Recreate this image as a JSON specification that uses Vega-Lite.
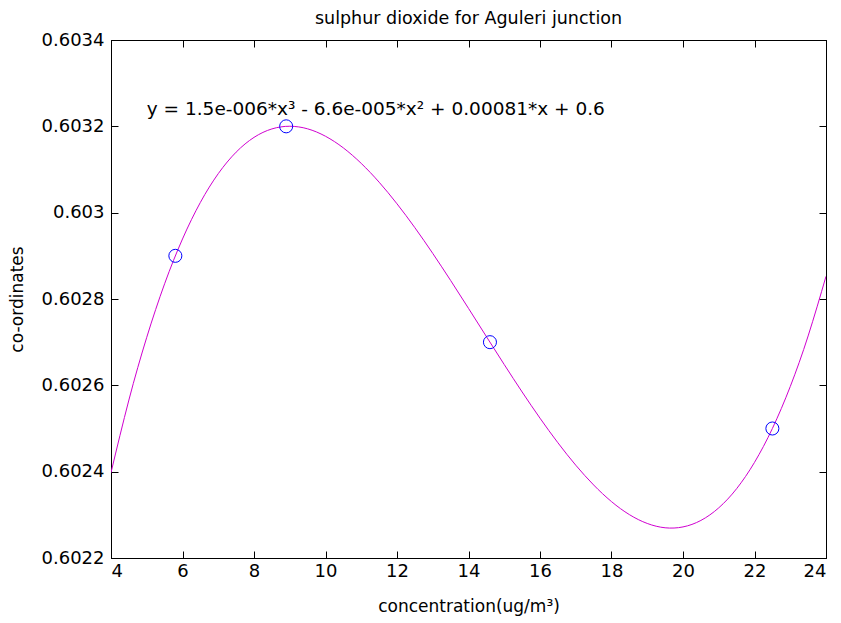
{
  "$schema": "https://vega.github.io/schema/vega-lite/v6.json",
  "width": 715,
  "height": 518,
  "autosize": "none",
  "padding": {"left": 111, "top": 40, "right": 15, "bottom": 65},
  "background": "white",
  "config": {
    "font": "DejaVu Sans",
    "view": {"stroke": "black", "strokeWidth": 1},
    "axis": {
      "grid": false,
      "domainColor": "black",
      "tickColor": "black",
      "labelColor": "black",
      "titleColor": "black",
      "labelFont": "DejaVu Sans",
      "titleFont": "DejaVu Sans",
      "labelFontSize": 18,
      "titleFontSize": 17,
      "titleFontWeight": "normal",
      "tickSize": -7
    }
  },
  "title": {
    "text": "sulphur dioxide for Aguleri junction",
    "font": "DejaVu Sans",
    "fontSize": 17.5,
    "fontWeight": "normal",
    "color": "black",
    "offset": 4
  },
  "datasets": {
    "curve": [
      {"x": 4, "y": 0.6023978}, {"x": 4.5, "y": 0.6025659}, {"x": 5, "y": 0.6027113},
      {"x": 5.5, "y": 0.6028354}, {"x": 6, "y": 0.6029391}, {"x": 6.5, "y": 0.6030238},
      {"x": 7, "y": 0.6030904}, {"x": 7.5, "y": 0.6031402}, {"x": 8, "y": 0.6031744},
      {"x": 8.5, "y": 0.603194}, {"x": 9, "y": 0.6032002}, {"x": 9.5, "y": 0.6031942},
      {"x": 10, "y": 0.603177}, {"x": 10.5, "y": 0.60315}, {"x": 11, "y": 0.6031141},
      {"x": 11.5, "y": 0.6030706}, {"x": 12, "y": 0.6030205}, {"x": 12.5, "y": 0.6029652},
      {"x": 13, "y": 0.6029056}, {"x": 13.5, "y": 0.6028429}, {"x": 14, "y": 0.6027783},
      {"x": 14.5, "y": 0.602713}, {"x": 15, "y": 0.6026481}, {"x": 15.5, "y": 0.6025846},
      {"x": 16, "y": 0.6025239}, {"x": 16.5, "y": 0.602467}, {"x": 17, "y": 0.602415},
      {"x": 17.5, "y": 0.6023692}, {"x": 18, "y": 0.6023306}, {"x": 18.5, "y": 0.6023005},
      {"x": 19, "y": 0.60228}, {"x": 19.5, "y": 0.60227}, {"x": 20, "y": 0.602272},
      {"x": 20.5, "y": 0.602287}, {"x": 21, "y": 0.6023162}, {"x": 21.5, "y": 0.6023606},
      {"x": 22, "y": 0.6024215}, {"x": 22.5, "y": 0.6025}, {"x": 23, "y": 0.6025972},
      {"x": 23.5, "y": 0.6027144}, {"x": 24, "y": 0.6028525}
    ],
    "points": [
      {"x": 5.8, "y": 0.6029}, {"x": 8.9, "y": 0.6032}, {"x": 14.6, "y": 0.6027}, {"x": 22.5, "y": 0.6025}
    ],
    "label": [
      {"x": 5, "y": 0.60324, "text": "y = 1.5e-006*x³ - 6.6e-005*x² + 0.00081*x + 0.6"}
    ]
  },
  "layer": [
    {
      "data": {"name": "curve"},
      "mark": {"type": "line", "color": "#d000d0", "strokeWidth": 1, "interpolate": "natural", "clip": true},
      "encoding": {
        "x": {
          "field": "x", "type": "quantitative",
          "scale": {"domain": [4, 24], "nice": false, "zero": false},
          "axis": {"orient": "bottom", "values": [4, 6, 8, 10, 12, 14, 16, 18, 20, 22, 24], "title": "concentration(ug/m³)", "labelPadding": 11, "titlePadding": 18}
        },
        "y": {
          "field": "y", "type": "quantitative",
          "scale": {"domain": [0.6022, 0.6034], "nice": false, "zero": false},
          "axis": {"orient": "left", "values": [0.6022, 0.6024, 0.6026, 0.6028, 0.603, 0.6032, 0.6034], "format": ".4~f", "title": "co-ordinates", "labelPadding": 14, "titlePadding": 15}
        }
      }
    },
    {
      "data": {"name": "points"},
      "mark": {"type": "point", "shape": "circle", "color": "#0000ff", "size": 170, "strokeWidth": 1, "filled": false, "opacity": 1},
      "encoding": {
        "x": {
          "field": "x", "type": "quantitative",
          "scale": {"domain": [4, 24], "nice": false, "zero": false},
          "axis": {"orient": "top", "values": [4, 6, 8, 10, 12, 14, 16, 18, 20, 22, 24], "labels": false, "title": null}
        },
        "y": {
          "field": "y", "type": "quantitative",
          "scale": {"domain": [0.6022, 0.6034], "nice": false, "zero": false},
          "axis": {"orient": "right", "values": [0.6022, 0.6024, 0.6026, 0.6028, 0.603, 0.6032, 0.6034], "labels": false, "title": null}
        }
      }
    },
    {
      "data": {"name": "label"},
      "mark": {"type": "text", "align": "left", "baseline": "middle", "fontSize": 18.5, "font": "DejaVu Sans", "color": "black"},
      "encoding": {
        "x": {"field": "x", "type": "quantitative", "scale": {"domain": [4, 24], "nice": false, "zero": false}, "axis": null},
        "y": {"field": "y", "type": "quantitative", "scale": {"domain": [0.6022, 0.6034], "nice": false, "zero": false}, "axis": null},
        "text": {"field": "text", "type": "nominal"}
      }
    }
  ],
  "resolve": {"axis": {"x": "independent", "y": "independent"}}
}
